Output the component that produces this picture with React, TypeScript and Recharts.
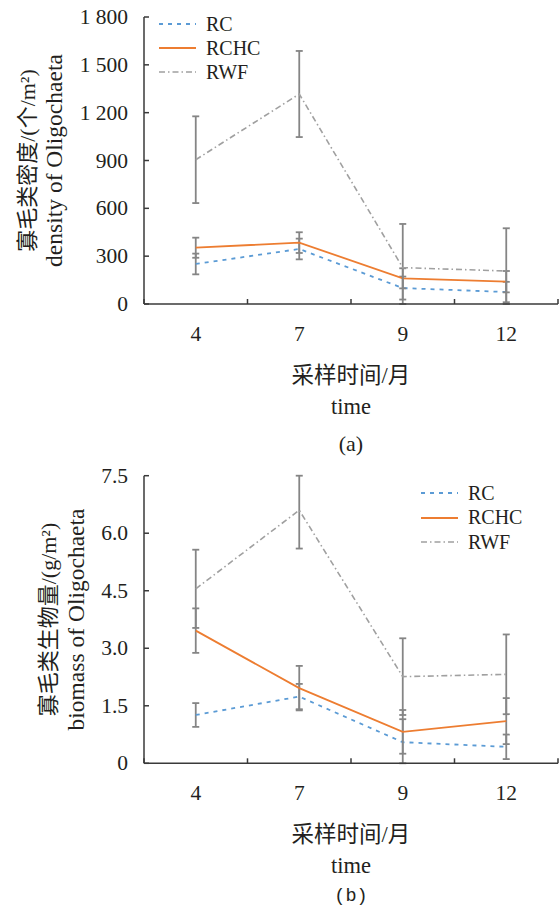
import React from 'react';
import { LineChart, Line, XAxis, YAxis, ErrorBar, Legend } from 'recharts';

// ---------- data ----------
const months = ['4', '7', '9', '12'];
const seriesNames = ['RC', 'RCHC', 'RWF'];

const densityRC = [251, 345, 100, 75];
const densityRCErr = [65, 65, 72, 64];
const densityRCHC = [353, 385, 161, 140];
const densityRCHCErr = [63, 65, 63, 67];
const densityRWF = [905, 1317, 228, 207];
const densityRWFErr = [272, 270, 274, 268];

const biomassRC = [1.26, 1.74, 0.55, 0.43];
const biomassRCErr = [0.31, 0.33, 0.6, 0.32];
const biomassRCHC = [3.46, 1.96, 0.82, 1.1];
const biomassRCHCErr = [0.58, 0.58, 0.57, 0.6];
const biomassRWF = [4.55, 6.6, 2.26, 2.32];
const biomassRWFErr = [1.02, 1.0, 1.0, 1.04];

const densityTicks = [0, 300, 600, 900, 1200, 1500, 1800];
const densityTickLabels = ['0', '300', '600', '900', '1 200', '1 500', '1 800'];
const biomassTicks = [0, 1.5, 3.0, 4.5, 6.0, 7.5];
const biomassTickLabels = ['0', '1.5', '3.0', '4.5', '6.0', '7.5'];

// ---------- styles ----------
const FONT = '"Liberation Serif", "Times New Roman", "Noto Sans CJK SC", serif';
const TEXT = '#231f20';
const AXIS = '#3a3a3a';
const ERR = '#858585';
const seriesStyle: Record<string, { stroke: string; dash?: string; width: number }> = {
  RC: { stroke: '#5b9bd5', dash: '4 5', width: 1.8 },
  RCHC: { stroke: '#ed7d31', width: 1.8 },
  RWF: { stroke: '#a0a0a0', dash: '6 3 1.5 3', width: 1.6 },
};

const xTickValues = [0, 0.5, 1, 1.5, 2, 2.5, 3, 3.5, 4];

// error bars are cut at the axis range, as in the source figure: [lower, upper]
const clipErr = (v: number, e: number, lo: number, hi: number) => [Math.min(e, v - lo), Math.min(e, hi - v)];

function makeRows(
  rc: number[], rcE: number[], rchc: number[], rchcE: number[], rwf: number[], rwfE: number[], hi: number,
) {
  return months.map((m, i) => ({
    pos: i + 0.5,
    month: m,
    RC: rc[i],
    RCErr: clipErr(rc[i], rcE[i], 0, hi),
    RCHC: rchc[i],
    RCHCErr: clipErr(rchc[i], rchcE[i], 0, hi),
    RWF: rwf[i],
    RWFErr: clipErr(rwf[i], rwfE[i], 0, hi),
  }));
}

const densityRows = makeRows(
  densityRC, densityRCErr, densityRCHC, densityRCHCErr, densityRWF, densityRWFErr,
  densityTicks[densityTicks.length - 1],
);
const biomassRows = makeRows(
  biomassRC, biomassRCErr, biomassRCHC, biomassRCHCErr, biomassRWF, biomassRWFErr,
  biomassTicks[biomassTicks.length - 1],
);

const XTick = (props: any) => {
  const { x, y, payload } = props;
  const v = payload.value as number;
  if (Number.isInteger(v)) {
    return <line x1={x} y1={y} x2={x} y2={y - 5} stroke={AXIS} strokeWidth={1.5} />;
  }
  return (
    <text x={x} y={y + 30} textAnchor="middle" dominantBaseline="central" fontSize={21.5} fontFamily={FONT} fill={TEXT}>
      {months[Math.floor(v)]}
    </text>
  );
};

const makeYTick = (ticks: number[], labels: string[]) => (props: any) => {
  const { x, y, payload } = props;
  const idx = ticks.findIndex((t) => Math.abs(t - payload.value) < 1e-9);
  return (
    <g>
      <line x1={x} y1={y} x2={x + 5} y2={y} stroke={AXIS} strokeWidth={1.5} />
      <text x={x - 16} y={y} textAnchor="end" dominantBaseline="central" fontSize={21.5} fontFamily={FONT} fill={TEXT}>
        {idx >= 0 ? labels[idx] : payload.value}
      </text>
    </g>
  );
};

const LegendBox = ({ rowH }: { rowH: number }) => (
  <div style={{ fontFamily: FONT }}>
    {seriesNames.map((n) => {
      const s = seriesStyle[n];
      return (
        <div key={n} style={{ display: 'flex', alignItems: 'center', height: rowH }}>
          <svg width={37} height={4} style={{ display: 'block' }}>
            <line x1={0} y1={2} x2={37} y2={2} stroke={s.stroke} strokeWidth={s.width} strokeDasharray={s.dash} />
          </svg>
          <span style={{ marginLeft: 10, fontSize: 20, lineHeight: rowH + 'px', color: TEXT }}>{n}</span>
        </div>
      );
    })}
  </div>
);

type PanelProps = {
  top: number;
  height: number;
  marginTop: number;
  xAxisHeight: number;
  rows: any[];
  yTicks: number[];
  yTickLabels: string[];
  yLabelCN: string;
  yLabelEN: string;
  cnX: number;
  enX: number;
  legendTop: number;
  legendLeft: number;
  legendRowH: number;
  panelLabel: string;
  panelFont: string;
  panelFontSize: number;
  panelDy: number;
};

function Panel(p: PanelProps) {
  const yMax = p.yTicks[p.yTicks.length - 1];
  const YTick = makeYTick(p.yTicks, p.yTickLabels);
  const xTitle = (lp: any) => {
    const vb = lp.viewBox || {};
    const cx = vb.x + vb.width / 2;
    const y0 = vb.y;
    return (
      <g>
        <text x={cx} y={y0 + 71} textAnchor="middle" dominantBaseline="central" fontSize={22.5} fontFamily={FONT} fill={TEXT}>
          采样时间/月
        </text>
        <text x={cx} y={y0 + 102} textAnchor="middle" dominantBaseline="central" fontSize={22.5} fontFamily={FONT} fill={TEXT}>
          time
        </text>
        <text x={cx} y={y0 + p.panelDy} textAnchor="middle" dominantBaseline="central" fontSize={p.panelFontSize} fontFamily={p.panelFont} fill={TEXT}>
          {p.panelLabel}
        </text>
      </g>
    );
  };
  const yTitle = (lp: any) => {
    const vb = lp.viewBox || {};
    const cy = vb.y + vb.height / 2;
    return (
      <g>
        <text x={p.cnX} y={cy} transform={`rotate(-90, ${p.cnX}, ${cy})`} textAnchor="middle" dominantBaseline="central" fontSize={22} fontFamily={FONT} fill={TEXT}>
          {p.yLabelCN}
        </text>
        <text x={p.enX} y={cy} transform={`rotate(-90, ${p.enX}, ${cy})`} textAnchor="middle" dominantBaseline="central" fontSize={23.5} fontFamily={FONT} fill={TEXT}>
          {p.yLabelEN}
        </text>
      </g>
    );
  };
  return (
    <div style={{ position: 'absolute', left: 0, top: p.top }}>
      <LineChart width={560} height={p.height} data={p.rows} margin={{ top: p.marginTop, right: 2, bottom: 0, left: 0 }}>
        <XAxis
          dataKey="pos"
          type="number"
          domain={[0, 4]}
          ticks={xTickValues}
          interval={0}
          height={p.xAxisHeight}
          tickLine={false}
          tickSize={0}
          tickMargin={0}
          tick={<XTick />}
          axisLine={{ stroke: AXIS, strokeWidth: 1.5 }}
          label={{ content: xTitle }}
        />
        <YAxis
          type="number"
          domain={[0, yMax]}
          ticks={p.yTicks}
          interval={0}
          allowDataOverflow
          width={144}
          tickLine={false}
          tickSize={0}
          tickMargin={0}
          tick={<YTick />}
          axisLine={{ stroke: AXIS, strokeWidth: 1.5 }}
          label={{ content: yTitle }}
        />
        <Legend
          layout="vertical"
          align="center"
          verticalAlign="middle"
          wrapperStyle={{ top: p.legendTop, left: p.legendLeft, width: 'auto' }}
          content={() => <LegendBox rowH={p.legendRowH} />}
        />
        {seriesNames.map((n) => {
          const s = seriesStyle[n];
          return (
            <Line
              key={n}
              type="linear"
              dataKey={n}
              stroke={s.stroke}
              strokeWidth={s.width}
              strokeDasharray={s.dash}
              dot={false}
              activeDot={false}
              isAnimationActive={false}
            >
              <ErrorBar dataKey={n + 'Err'} direction="y" width={3.5} strokeWidth={1.8} stroke={ERR} isAnimationActive={false} />
            </Line>
          );
        })}
      </LineChart>
    </div>
  );
}

export default function App() {
  return (
    <div style={{ position: 'absolute', left: 0, top: 0, width: 560, height: 907, background: '#fff' }}>
      <Panel
        top={0}
        height={460}
        marginTop={17}
        xAxisHeight={156}
        rows={densityRows}
        yTicks={densityTicks}
        yTickLabels={densityTickLabels}
        yLabelCN="寡毛类密度/(个/m²)"
        yLabelEN="density of Oligochaeta"
        cnX={27}
        enX={54}
        legendTop={12}
        legendLeft={159}
        legendRowH={24}
        panelLabel="(a)"
        panelFont={FONT}
        panelFontSize={22}
        panelDy={139}
      />
      <Panel
        top={460}
        height={447}
        marginTop={15.7}
        xAxisHeight={143.7}
        rows={biomassRows}
        yTicks={biomassTicks}
        yTickLabels={biomassTickLabels}
        yLabelCN="寡毛类生物量/(g/m²)"
        yLabelEN="biomass of Oligochaeta"
        cnX={48}
        enX={76}
        legendTop={20.75}
        legendLeft={421}
        legendRowH={24.5}
        panelLabel="(b)"
        panelFont={'"Liberation Mono", "DejaVu Sans Mono", monospace'}
        panelFontSize={18.5}
        panelDy={133}
      />
    </div>
  );
}
